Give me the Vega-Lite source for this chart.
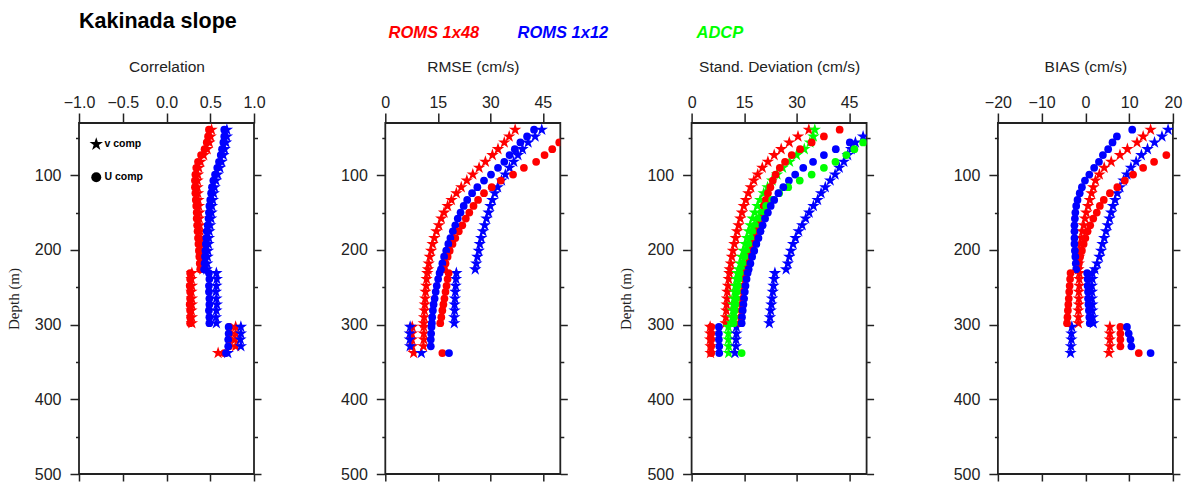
{
"$schema": "https://vega.github.io/schema/vega-lite/v6.json",
"padding": {"left": 5, "top": 10, "right": 5, "bottom": 0},
"title": {"text": "Kakinada slope", "anchor": "start", "frame": "group", "fontSize": 21.5, "fontWeight": "bold", "font": "Liberation Sans", "color": "#000", "offset": -8},
"bounds": "flush",
"spacing": 131.3,
"datasets": {
"keys": [
{"k":"rv","m":"ROMS 1x48","c":"v comp"},{"k":"ru","m":"ROMS 1x48","c":"U comp"},
{"k":"bv","m":"ROMS 1x12","c":"v comp"},{"k":"bu","m":"ROMS 1x12","c":"U comp"},
{"k":"gv","m":"ADCP","c":"v comp"},{"k":"gu","m":"ADCP","c":"U comp"}],
"corr": [
{"d":39,"rv":0.515,"ru":0.485,"bv":0.69,"bu":0.66},
{"d":48,"rv":0.505,"ru":0.475,"bv":0.69,"bu":0.66},
{"d":56,"rv":0.49,"ru":0.46,"bv":0.68,"bu":0.65},
{"d":65,"rv":0.465,"ru":0.435,"bv":0.665,"bu":0.635},
{"d":73,"rv":0.425,"ru":0.395,"bv":0.65,"bu":0.62},
{"d":82,"rv":0.39,"ru":0.36,"bv":0.63,"bu":0.6},
{"d":90,"rv":0.37,"ru":0.34,"bv":0.61,"bu":0.58},
{"d":99,"rv":0.36,"ru":0.33,"bv":0.585,"bu":0.555},
{"d":107,"rv":0.355,"ru":0.325,"bv":0.565,"bu":0.535},
{"d":116,"rv":0.355,"ru":0.325,"bv":0.55,"bu":0.52},
{"d":124,"rv":0.36,"ru":0.33,"bv":0.54,"bu":0.51},
{"d":133,"rv":0.365,"ru":0.335,"bv":0.53,"bu":0.5},
{"d":141,"rv":0.37,"ru":0.34,"bv":0.52,"bu":0.49},
{"d":150,"rv":0.375,"ru":0.345,"bv":0.515,"bu":0.485},
{"d":158,"rv":0.375,"ru":0.345,"bv":0.51,"bu":0.48},
{"d":167,"rv":0.38,"ru":0.35,"bv":0.5,"bu":0.47},
{"d":175,"rv":0.385,"ru":0.355,"bv":0.49,"bu":0.46},
{"d":184,"rv":0.39,"ru":0.36,"bv":0.485,"bu":0.455},
{"d":192,"rv":0.395,"ru":0.365,"bv":0.48,"bu":0.45},
{"d":201,"rv":0.4,"ru":0.37,"bv":0.475,"bu":0.445},
{"d":209,"rv":0.405,"ru":0.375,"bv":0.47,"bu":0.44},
{"d":218,"rv":0.41,"ru":0.38,"bv":0.465,"bu":0.435},
{"d":226,"rv":0.415,"ru":0.385,"bv":0.46,"bu":0.43},
{"d":231,"rv":0.29,"ru":0.27,"bv":0.57,"bu":0.485},
{"d":239,"rv":0.285,"ru":0.27,"bv":0.575,"bu":0.49},
{"d":248,"rv":0.29,"ru":0.265,"bv":0.57,"bu":0.485},
{"d":256,"rv":0.285,"ru":0.27,"bv":0.565,"bu":0.485},
{"d":265,"rv":0.29,"ru":0.27,"bv":0.57,"bu":0.49},
{"d":273,"rv":0.29,"ru":0.265,"bv":0.575,"bu":0.49},
{"d":281,"rv":0.285,"ru":0.27,"bv":0.57,"bu":0.485},
{"d":290,"rv":0.29,"ru":0.27,"bv":0.565,"bu":0.49},
{"d":298,"rv":0.29,"ru":0.27,"bv":0.57,"bu":0.49},
{"d":303,"rv":0.79,"ru":0.72,"bv":0.85,"bu":0.71},
{"d":312,"rv":0.79,"ru":0.72,"bv":0.85,"bu":0.71},
{"d":320,"rv":0.785,"ru":0.72,"bv":0.845,"bu":0.705},
{"d":329,"rv":0.79,"ru":0.715,"bv":0.85,"bu":0.705},
{"d":338,"rv":0.59,"ru":0.66,"bv":0.7,"bu":0.68}],
"rmse": [
{"d":39,"rv":37.1,"bv":44.7,"bu":42.5},
{"d":48,"rv":35.4,"bv":42.8,"bu":40.5},
{"d":56,"rv":34.0,"ru":49.7,"bv":40.8,"bu":38.6},
{"d":65,"rv":32.2,"ru":47.7,"bv":39.2,"bu":37.0},
{"d":73,"rv":30.6,"ru":45.5,"bv":37.9,"bu":35.5},
{"d":82,"rv":28.6,"ru":43.1,"bv":36.7,"bu":34.0},
{"d":90,"rv":26.8,"ru":39.6,"bv":35.5,"bu":32.2},
{"d":99,"rv":25.0,"ru":36.5,"bv":34.3,"bu":30.2},
{"d":107,"rv":23.3,"ru":33.0,"bv":33.2,"bu":28.2},
{"d":116,"rv":21.7,"ru":30.4,"bv":32.1,"bu":26.3},
{"d":124,"rv":20.3,"ru":28.2,"bv":31.3,"bu":24.8},
{"d":133,"rv":18.9,"ru":26.5,"bv":30.6,"bu":23.4},
{"d":141,"rv":17.8,"ru":25.2,"bv":30.0,"bu":22.4},
{"d":150,"rv":16.8,"ru":24.0,"bv":29.5,"bu":21.5},
{"d":158,"rv":16.0,"ru":23.0,"bv":28.9,"bu":20.7},
{"d":167,"rv":15.3,"ru":22.0,"bv":28.4,"bu":20.0},
{"d":175,"rv":14.6,"ru":21.0,"bv":27.9,"bu":19.3},
{"d":184,"rv":14.0,"ru":20.0,"bv":27.4,"bu":18.6},
{"d":192,"rv":13.5,"ru":19.2,"bv":27.0,"bu":18.0},
{"d":201,"rv":13.1,"ru":18.4,"bv":26.7,"bu":17.4},
{"d":209,"rv":12.7,"ru":17.8,"bv":26.3,"bu":16.8},
{"d":218,"rv":12.4,"ru":17.2,"bv":26.0,"bu":16.3},
{"d":226,"rv":12.2,"ru":16.8,"bv":25.7,"bu":15.9},
{"d":231,"rv":12.0,"ru":18.1,"bv":20.3,"bu":15.5},
{"d":239,"rv":11.8,"ru":17.8,"bv":20.2,"bu":15.1},
{"d":248,"rv":11.7,"ru":17.5,"bv":20.1,"bu":14.7},
{"d":256,"rv":11.5,"ru":17.2,"bv":20.0,"bu":14.4},
{"d":265,"rv":11.4,"ru":16.9,"bv":19.9,"bu":14.1},
{"d":273,"rv":11.3,"ru":16.6,"bv":19.8,"bu":13.8},
{"d":281,"rv":11.2,"ru":16.3,"bv":19.8,"bu":13.6},
{"d":290,"rv":11.1,"ru":16.0,"bv":19.7,"bu":13.4},
{"d":298,"rv":11.0,"ru":15.7,"bv":19.7,"bu":13.3},
{"d":303,"rv":7.7,"bv":7.1,"bu":13.2},
{"d":312,"rv":7.6,"bv":7.0,"bu":13.1},
{"d":320,"rv":7.6,"bv":7.0,"bu":13.0},
{"d":329,"rv":7.7,"bv":7.1,"bu":13.0},
{"d":338,"rv":8.1,"ru":16.3,"bv":10.3,"bu":18.2},
{"d":303,"rv":11.0},{"d":312,"rv":11.0},{"d":320,"rv":11.0},{"d":329,"rv":10.9}],
"sd": [
{"d":39,"rv":33.5,"ru":42.3,"gv":35.2},
{"d":48,"rv":30.4,"ru":37.8,"bv":49.0,"gv":34.8},
{"d":56,"rv":27.9,"ru":34.3,"bv":46.8,"bu":45.2,"gv":33.8,"gu":49.0},
{"d":65,"rv":25.6,"ru":31.0,"bv":45.6,"bu":41.2,"gv":32.2,"gu":46.5},
{"d":73,"rv":23.6,"ru":28.6,"bv":44.6,"bu":37.8,"gv":30.0,"gu":44.2},
{"d":82,"rv":21.8,"ru":26.7,"bv":43.5,"bu":34.7,"gv":28.0,"gu":41.1},
{"d":90,"rv":20.2,"ru":25.2,"bv":42.2,"bu":31.9,"gv":26.0,"gu":37.8},
{"d":99,"rv":18.9,"ru":24.0,"bv":41.0,"bu":29.6,"gv":24.4,"gu":34.3},
{"d":107,"rv":17.8,"ru":23.2,"bv":39.6,"bu":27.8,"gv":23.0,"gu":30.9},
{"d":116,"rv":16.9,"ru":22.5,"bv":38.2,"bu":26.2,"gv":21.7,"gu":27.6},
{"d":124,"rv":16.2,"ru":21.8,"bv":37.0,"bu":24.8,"gv":20.6,"gu":25.0},
{"d":133,"rv":15.5,"ru":21.2,"bv":36.0,"bu":23.6,"gv":19.6,"gu":23.0},
{"d":141,"rv":14.9,"ru":20.6,"bv":34.8,"bu":22.6,"gv":18.8,"gu":21.3},
{"d":150,"rv":14.4,"ru":20.1,"bv":33.6,"bu":21.8,"gv":18.1,"gu":20.0},
{"d":158,"rv":13.9,"ru":19.6,"bv":32.6,"bu":21.0,"gv":17.4,"gu":19.0},
{"d":167,"rv":13.4,"ru":19.1,"bv":31.6,"bu":20.3,"gv":16.8,"gu":18.1},
{"d":175,"rv":13.0,"ru":18.6,"bv":30.6,"bu":19.7,"gv":16.3,"gu":17.4},
{"d":184,"rv":12.6,"ru":18.1,"bv":29.7,"bu":19.1,"gv":15.8,"gu":16.8},
{"d":192,"rv":12.2,"ru":17.6,"bv":29.0,"bu":18.5,"gv":15.3,"gu":16.2},
{"d":201,"rv":11.8,"ru":17.1,"bv":28.4,"bu":17.9,"gv":14.8,"gu":15.6},
{"d":209,"rv":11.5,"ru":16.6,"bv":27.9,"bu":17.3,"gv":14.3,"gu":15.1},
{"d":218,"rv":11.2,"ru":16.2,"bv":27.5,"bu":16.8,"gv":13.9,"gu":14.6},
{"d":226,"rv":10.9,"ru":15.8,"bv":27.0,"bu":16.3,"gv":13.5,"gu":14.2},
{"d":231,"rv":10.8,"ru":15.4,"bv":23.8,"bu":16.0,"gv":13.1,"gu":13.8},
{"d":239,"rv":10.6,"ru":15.2,"bv":23.6,"bu":15.7,"gv":12.8,"gu":13.5},
{"d":248,"rv":10.4,"ru":15.0,"bv":23.4,"bu":15.4,"gv":12.5,"gu":13.2},
{"d":256,"rv":10.2,"ru":14.8,"bv":23.2,"bu":15.2,"gv":12.3,"gu":12.9},
{"d":265,"rv":10.1,"ru":14.6,"bv":23.0,"bu":15.0,"gv":12.1,"gu":12.7},
{"d":273,"rv":10.0,"ru":14.4,"bv":22.8,"bu":14.8,"gv":11.9,"gu":12.5},
{"d":281,"rv":9.9,"ru":14.3,"bv":22.6,"bu":14.6,"gv":11.8,"gu":12.3},
{"d":290,"rv":9.8,"ru":14.1,"bv":22.4,"bu":14.4,"gv":11.6,"gu":12.1},
{"d":298,"rv":9.7,"ru":14.0,"bv":22.2,"bu":14.3,"gv":11.5,"gu":12.0},
{"d":303,"rv":5.3,"ru":5.6,"bv":12.8,"bu":7.8,"gv":10.5},
{"d":312,"rv":5.3,"ru":5.6,"bv":12.8,"bu":7.8,"gv":10.5},
{"d":320,"rv":5.3,"ru":5.6,"bv":12.7,"bu":7.8,"gv":10.5},
{"d":329,"rv":5.4,"ru":5.6,"bv":12.7,"bu":7.9,"gv":10.6},
{"d":338,"rv":5.4,"ru":5.6,"bv":12.4,"bu":7.9,"gv":10.6,"gu":14.3}],
"bias": [
{"d":39,"rv":14.9,"bv":18.9,"bu":10.7},
{"d":48,"rv":13.2,"bv":17.5,"bu":7.2},
{"d":56,"rv":11.8,"bv":15.8,"bu":6.2},
{"d":65,"rv":9.6,"bv":14.2,"bu":5.2},
{"d":73,"rv":7.9,"ru":18.5,"bv":12.8,"bu":4.0},
{"d":82,"rv":5.9,"ru":15.7,"bv":11.6,"bu":3.1},
{"d":90,"rv":4.3,"ru":13.2,"bv":10.4,"bu":2.0},
{"d":99,"rv":3.2,"ru":10.9,"bv":9.5,"bu":0.9},
{"d":107,"rv":2.3,"ru":9.0,"bv":8.7,"bu":-0.1},
{"d":116,"rv":1.8,"ru":7.3,"bv":7.9,"bu":-0.8},
{"d":124,"rv":1.4,"ru":5.6,"bv":7.3,"bu":-1.3},
{"d":133,"rv":1.0,"ru":4.2,"bv":6.8,"bu":-1.8},
{"d":141,"rv":0.6,"ru":3.3,"bv":6.3,"bu":-2.1},
{"d":150,"rv":0.2,"ru":2.6,"bv":5.9,"bu":-2.3},
{"d":158,"rv":-0.1,"ru":1.8,"bv":5.5,"bu":-2.4},
{"d":167,"rv":-0.4,"ru":1.1,"bv":5.1,"bu":-2.5},
{"d":175,"rv":-0.7,"ru":0.5,"bv":4.7,"bu":-2.5},
{"d":184,"rv":-0.9,"ru":0.0,"bv":4.3,"bu":-2.5},
{"d":192,"rv":-1.1,"ru":-0.4,"bv":3.9,"bu":-2.5},
{"d":201,"rv":-1.3,"ru":-0.8,"bv":3.6,"bu":-2.4},
{"d":209,"rv":-1.4,"ru":-1.2,"bv":3.2,"bu":-2.3},
{"d":218,"rv":-1.5,"ru":-1.5,"bv":2.7,"bu":-2.2},
{"d":226,"rv":-1.6,"ru":-1.8,"bv":2.2,"bu":-2.1},
{"d":231,"rv":-1.4,"ru":-3.4,"bv":1.6,"bu":0.4},
{"d":239,"rv":-1.4,"ru":-3.5,"bv":1.6,"bu":0.5},
{"d":248,"rv":-1.4,"ru":-3.6,"bv":1.5,"bu":0.5},
{"d":256,"rv":-1.5,"ru":-3.7,"bv":1.5,"bu":0.6},
{"d":265,"rv":-1.5,"ru":-3.8,"bv":1.5,"bu":0.6},
{"d":273,"rv":-1.5,"ru":-3.9,"bv":1.6,"bu":0.7},
{"d":281,"rv":-1.6,"ru":-4.0,"bv":1.6,"bu":0.8},
{"d":290,"rv":-1.6,"ru":-4.1,"bv":1.7,"bu":0.9},
{"d":298,"rv":-1.6,"ru":-4.2,"bv":1.8,"bu":1.0},
{"d":303,"rv":5.6,"ru":8.0,"bv":-3.1,"bu":9.5},
{"d":312,"rv":5.6,"ru":8.0,"bv":-3.2,"bu":9.9},
{"d":320,"rv":5.6,"ru":8.0,"bv":-3.2,"bu":10.3},
{"d":329,"rv":5.6,"ru":8.0,"bv":-3.3,"bu":10.5},
{"d":338,"rv":5.4,"ru":12.2,"bv":-3.4,"bu":14.9}]
},
"resolve": {"legend": {"color": "independent", "shape": "independent"}},
"hconcat": [
{
"width": 175, "height": 351,
"data": {"name": "corr"},
"transform": [{"fold": ["rv","ru","bv","bu"], "as": ["k","v"]}, {"filter": "isValid(datum.v)"}, {"lookup": "k", "from": {"data": {"name": "keys"}, "key": "k", "fields": ["m","c"]}}],
"resolve": {"axis": {"x": "independent", "y": "independent"}},
"layer": [
{"transform": [{"filter": "datum.c == 'v comp'"}],
 "mark": {"type": "point", "filled": true, "opacity": 1, "clip": true, "strokeWidth": 0, "size": 170},
 "encoding": {
  "x": {"field": "v", "type": "quantitative", "scale": {"domain": [-1, 1], "nice": false, "zero": false}, "axis": {"orient": "top", "values": [-1,-0.5,0,0.5,1], "format": ".1f", "title": "Correlation", "tickSize": 10, "labelPadding": 3, "titlePadding": 19.5}},
  "y": {"field": "d", "type": "quantitative", "scale": {"domain": [30, 500], "reverse": true, "nice": false, "zero": false}, "axis": {"orient": "left", "values": [100,200,300,400,500], "tickSize": 9, "labelPadding": 9, "title": "Depth (m)", "titleFont": "Liberation Serif", "titleFontSize": 15, "titlePadding": 13}},
  "color": {"field": "m", "type": "nominal", "scale": {"domain": ["ROMS 1x48","ROMS 1x12","ADCP"], "range": ["#ff0000","#0000ff","#00ff00"]},
    "legend": {"orient": "none", "legendX": 293, "legendY": -98, "direction": "horizontal", "title": null, "symbolSize": 0, "symbolOpacity": 0, "symbolStrokeWidth": 0, "labelOffset": 0, "labelFont": "Liberation Sans", "labelFontSize": 16.5, "labelFontWeight": "bold", "labelFontStyle": "italic", "labelColor": {"expr": "scale('color', datum.value)"}, "columnPadding": 21, "labelLimit": 400, "labelExpr": "datum.label == 'ROMS 1x12' ? 'ROMS 1x12\u00a0\u00a0\u00a0\u00a0\u00a0\u00a0\u00a0\u00a0\u00a0\u00a0\u00a0\u200b' : datum.label"}},
  "shape": {"field": "c", "type": "nominal", "scale": {"domain": ["v comp","U comp"], "range": ["M0,-1L0.2245,-0.309L0.951,-0.309L0.363,0.118L0.588,0.809L0,0.382L-0.588,0.809L-0.363,0.118L-0.951,-0.309L-0.2245,-0.309Z", "circle"]},
    "legend": {"orient": "none", "legendX": 12, "legendY": 16, "title": null, "symbolSize": {"expr": "datum.value == 'v comp' ? 200 : 100"}, "symbolFillColor": "#000", "symbolStrokeColor": "#000", "symbolStrokeWidth": 0, "symbolOpacity": 1, "labelFont": "Liberation Sans", "labelFontSize": 10.5, "labelFontWeight": "bold", "labelColor": "#000", "rowPadding": 22, "labelOffset": 3}}
 }},
{"transform": [{"filter": "datum.c == 'U comp'"}],
 "mark": {"type": "point", "filled": true, "opacity": 1, "clip": true, "strokeWidth": 0, "size": 60},
 "encoding": {
  "x": {"field": "v", "type": "quantitative", "axis": {"orient": "bottom", "values": [-1,-0.5,0,0.5,1], "labels": false, "title": null, "tickSize": 7}},
  "y": {"field": "d", "type": "quantitative", "axis": {"orient": "left", "values": [50,150,250,350,450], "labels": false, "title": null, "tickSize": 3.5}},
  "color": {"field": "m", "type": "nominal"},
  "shape": {"field": "c", "type": "nominal"}
 }},
{"mark": {"type": "point", "opacity": 0},
 "encoding": {
  "x": {"field": "v", "type": "quantitative", "axis": null},
  "y": {"field": "d", "type": "quantitative", "axis": {"orient": "right", "values": [100,200,300,400,500], "labels": false, "title": null, "tickSize": 7}}
 }},
{"mark": {"type": "point", "opacity": 0},
 "encoding": {
  "x": {"field": "v", "type": "quantitative", "axis": null},
  "y": {"field": "d", "type": "quantitative", "axis": {"orient": "right", "values": [50,150,250,350,450], "labels": false, "title": null, "tickSize": 3.5}}
 }}
]
},
{
"width": 175, "height": 351,
"data": {"name": "rmse"},
"transform": [{"fold": ["rv","ru","bv","bu"], "as": ["k","v"]}, {"filter": "isValid(datum.v)"}, {"lookup": "k", "from": {"data": {"name": "keys"}, "key": "k", "fields": ["m","c"]}}],
"resolve": {"axis": {"x": "independent", "y": "independent"}},
"layer": [
{"transform": [{"filter": "datum.c == 'v comp'"}],
 "mark": {"type": "point", "filled": true, "opacity": 1, "clip": true, "strokeWidth": 0, "size": 170},
 "encoding": {
  "x": {"field": "v", "type": "quantitative", "scale": {"domain": [0, 50], "nice": false, "zero": false}, "axis": {"orient": "top", "values": [0,15,30,45], "title": "RMSE (cm/s)", "tickSize": 10, "labelPadding": 3, "titlePadding": 19.5}},
  "y": {"field": "d", "type": "quantitative", "scale": {"domain": [30, 500], "reverse": true, "nice": false, "zero": false}, "axis": {"orient": "left", "values": [100,200,300,400,500], "tickSize": 9, "labelPadding": 9, "title": null}},
  "color": {"field": "m", "type": "nominal", "legend": null},
  "shape": {"field": "c", "type": "nominal", "legend": null}
 }},
{"transform": [{"filter": "datum.c == 'U comp'"}],
 "mark": {"type": "point", "filled": true, "opacity": 1, "clip": true, "strokeWidth": 0, "size": 60},
 "encoding": {
  "x": {"field": "v", "type": "quantitative", "axis": {"orient": "bottom", "values": [0,15,30,45], "labels": false, "title": null, "tickSize": 7}},
  "y": {"field": "d", "type": "quantitative", "axis": {"orient": "left", "values": [50,150,250,350,450], "labels": false, "title": null, "tickSize": 3.5}},
  "color": {"field": "m", "type": "nominal", "legend": null},
  "shape": {"field": "c", "type": "nominal", "legend": null}
 }},
{"mark": {"type": "point", "opacity": 0},
 "encoding": {
  "x": {"field": "v", "type": "quantitative", "axis": null},
  "y": {"field": "d", "type": "quantitative", "axis": {"orient": "right", "values": [100,200,300,400,500], "labels": false, "title": null, "tickSize": 7}}
 }},
{"mark": {"type": "point", "opacity": 0},
 "encoding": {
  "x": {"field": "v", "type": "quantitative", "axis": null},
  "y": {"field": "d", "type": "quantitative", "axis": {"orient": "right", "values": [50,150,250,350,450], "labels": false, "title": null, "tickSize": 3.5}}
 }}
]
},
{
"width": 175, "height": 351,
"data": {"name": "sd"},
"transform": [{"fold": ["rv","ru","gv","gu","bv","bu"], "as": ["k","v"]}, {"filter": "isValid(datum.v)"}, {"lookup": "k", "from": {"data": {"name": "keys"}, "key": "k", "fields": ["m","c"]}}],
"resolve": {"axis": {"x": "independent", "y": "independent"}},
"layer": [
{"transform": [{"filter": "datum.c == 'v comp'"}],
 "mark": {"type": "point", "filled": true, "opacity": 1, "clip": true, "strokeWidth": 0, "size": 170},
 "encoding": {
  "x": {"field": "v", "type": "quantitative", "scale": {"domain": [0, 50], "nice": false, "zero": false}, "axis": {"orient": "top", "values": [0,15,30,45], "title": "Stand. Deviation (cm/s)", "tickSize": 10, "labelPadding": 3, "titlePadding": 19.5}},
  "y": {"field": "d", "type": "quantitative", "scale": {"domain": [30, 500], "reverse": true, "nice": false, "zero": false}, "axis": {"orient": "left", "values": [100,200,300,400,500], "tickSize": 9, "labelPadding": 9, "title": "Depth (m)", "titleFont": "Liberation Serif", "titleFontSize": 15, "titlePadding": 13}},
  "color": {"field": "m", "type": "nominal", "legend": null},
  "shape": {"field": "c", "type": "nominal", "legend": null}
 }},
{"transform": [{"filter": "datum.c == 'U comp'"}],
 "mark": {"type": "point", "filled": true, "opacity": 1, "clip": true, "strokeWidth": 0, "size": 60},
 "encoding": {
  "x": {"field": "v", "type": "quantitative", "axis": {"orient": "bottom", "values": [0,15,30,45], "labels": false, "title": null, "tickSize": 7}},
  "y": {"field": "d", "type": "quantitative", "axis": {"orient": "left", "values": [50,150,250,350,450], "labels": false, "title": null, "tickSize": 3.5}},
  "color": {"field": "m", "type": "nominal", "legend": null},
  "shape": {"field": "c", "type": "nominal", "legend": null}
 }},
{"mark": {"type": "point", "opacity": 0},
 "encoding": {
  "x": {"field": "v", "type": "quantitative", "axis": null},
  "y": {"field": "d", "type": "quantitative", "axis": {"orient": "right", "values": [100,200,300,400,500], "labels": false, "title": null, "tickSize": 7}}
 }},
{"mark": {"type": "point", "opacity": 0},
 "encoding": {
  "x": {"field": "v", "type": "quantitative", "axis": null},
  "y": {"field": "d", "type": "quantitative", "axis": {"orient": "right", "values": [50,150,250,350,450], "labels": false, "title": null, "tickSize": 3.5}}
 }}
]
},
{
"width": 175, "height": 351,
"data": {"name": "bias"},
"transform": [{"fold": ["rv","ru","bv","bu"], "as": ["k","v"]}, {"filter": "isValid(datum.v)"}, {"lookup": "k", "from": {"data": {"name": "keys"}, "key": "k", "fields": ["m","c"]}}],
"resolve": {"axis": {"x": "independent", "y": "independent"}},
"layer": [
{"transform": [{"filter": "datum.c == 'v comp'"}],
 "mark": {"type": "point", "filled": true, "opacity": 1, "clip": true, "strokeWidth": 0, "size": 170},
 "encoding": {
  "x": {"field": "v", "type": "quantitative", "scale": {"domain": [-20, 20], "nice": false, "zero": false}, "axis": {"orient": "top", "values": [-20,-10,0,10,20], "title": "BIAS (cm/s)", "tickSize": 10, "labelPadding": 3, "titlePadding": 19.5}},
  "y": {"field": "d", "type": "quantitative", "scale": {"domain": [30, 500], "reverse": true, "nice": false, "zero": false}, "axis": {"orient": "left", "values": [100,200,300,400,500], "tickSize": 9, "labelPadding": 9, "title": null}},
  "color": {"field": "m", "type": "nominal", "legend": null},
  "shape": {"field": "c", "type": "nominal", "legend": null}
 }},
{"transform": [{"filter": "datum.c == 'U comp'"}],
 "mark": {"type": "point", "filled": true, "opacity": 1, "clip": true, "strokeWidth": 0, "size": 60},
 "encoding": {
  "x": {"field": "v", "type": "quantitative", "axis": {"orient": "bottom", "values": [-20,-10,0,10,20], "labels": false, "title": null, "tickSize": 7}},
  "y": {"field": "d", "type": "quantitative", "axis": {"orient": "left", "values": [50,150,250,350,450], "labels": false, "title": null, "tickSize": 3.5}},
  "color": {"field": "m", "type": "nominal", "legend": null},
  "shape": {"field": "c", "type": "nominal", "legend": null}
 }},
{"mark": {"type": "point", "opacity": 0},
 "encoding": {
  "x": {"field": "v", "type": "quantitative", "axis": null},
  "y": {"field": "d", "type": "quantitative", "axis": {"orient": "right", "values": [100,200,300,400,500], "labels": false, "title": null, "tickSize": 7}}
 }},
{"mark": {"type": "point", "opacity": 0},
 "encoding": {
  "x": {"field": "v", "type": "quantitative", "axis": null},
  "y": {"field": "d", "type": "quantitative", "axis": {"orient": "right", "values": [50,150,250,350,450], "labels": false, "title": null, "tickSize": 3.5}}
 }}
]
}
],
"config": {
 "font": "Liberation Sans",
 "view": {"stroke": "#222", "strokeWidth": 1.8},
 "mark": {"color": "#000"},
 "axis": {"grid": false, "domain": false, "tickColor": "#222", "tickWidth": 1.5, "labelFont": "Liberation Sans", "labelFontSize": 16, "labelColor": "#222", "titleFont": "Liberation Sans", "titleFontSize": 15.5, "titleFontWeight": "normal", "titleColor": "#222", "labelFlush": false, "labelOverlap": false}
}
}
